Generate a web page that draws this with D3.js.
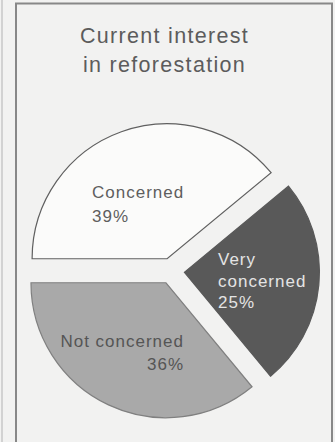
<!DOCTYPE html>
<html><head><meta charset="utf-8">
<script src="https://cdn.jsdelivr.net/npm/d3@7"></script>
<style>
html,body{margin:0;padding:0;background:#f2f2f1;}
svg{display:block;}
text{font-family:"Liberation Sans",Arial,Helvetica,sans-serif;}
</style></head>
<body>
<script>
const titleLines = ["Current interest", "in reforestation"];
const categories = ["Concerned", "Very concerned", "Not concerned"];
const values = [39, 25, 36];
const fills = ["#fbfbfa", "#595959", "#a9a9a9"];
const strokes = ["#606060", "#595959", "#808080"];
const labelLines = [["Concerned", "39%"], ["Very", "concerned", "25%"], ["Not concerned", "36%"]];

const W = 335, H = 442;
const svg = d3.select("body").append("svg").attr("width", W).attr("height", H);

// page edge line and frame
svg.append("line").attr("x1", 2).attr("x2", 2).attr("y1", 0).attr("y2", H)
  .attr("stroke", "#d2d2d2").attr("stroke-width", 2);
svg.append("path").attr("d", `M16,${H} L16,3.5 L332,3.5 L332,${H}`)
  .attr("fill", "none").attr("stroke", "#888888").attr("stroke-width", 2);

// title
const title = svg.append("text").attr("text-anchor", "middle").attr("fill", "#5c5c5c")
  .style("font-size", "21.5px").style("letter-spacing", "1.3px");
titleLines.forEach((t, i) => title.append("tspan").attr("x", 164.5).attr("y", 43 + i * 29).text(t));

const cx = 171.5, cy = 271, R = 135, explode = 13;
const pie = d3.pie().sort(null).startAngle(-Math.PI / 2).endAngle(3 * Math.PI / 2);
const arcs = pie(values);
const arc = d3.arc().innerRadius(0).outerRadius(R);

const g = svg.append("g").attr("transform", `translate(${cx},${cy})`);
const slices = g.selectAll("g.slice").data(arcs).enter().append("g")
  .attr("class", "slice")
  .attr("transform", d => {
    const a = (d.startAngle + d.endAngle) / 2;
    return `translate(${explode * Math.sin(a)},${-explode * Math.cos(a)})`;
  });
slices.append("path").attr("d", arc)
  .attr("fill", (d, i) => fills[i])
  .attr("stroke", (d, i) => strokes[i])
  .attr("stroke-width", 1.2);

// labels (positions relative to pie center)
const labelSpec = [
  {x: -79.5, y: -73, anchor: "start", dy: 23.5, color: "#5e5e5e"},
  {x: 46.5, y: -6, anchor: "start", dy: 21.5, color: "#e4e4e4"},
  {x: 12.5, y: 76, anchor: "end", dy: 23, color: "#555555"}
];
labelLines.forEach((lines, i) => {
  const s = labelSpec[i];
  const t = g.append("text").attr("text-anchor", s.anchor).attr("fill", s.color)
    .style("font-size", "17px").style("letter-spacing", "1px");
  lines.forEach((l, j) => t.append("tspan").attr("x", s.x).attr("y", s.y + j * s.dy).text(l));
});
</script>
</body></html>
